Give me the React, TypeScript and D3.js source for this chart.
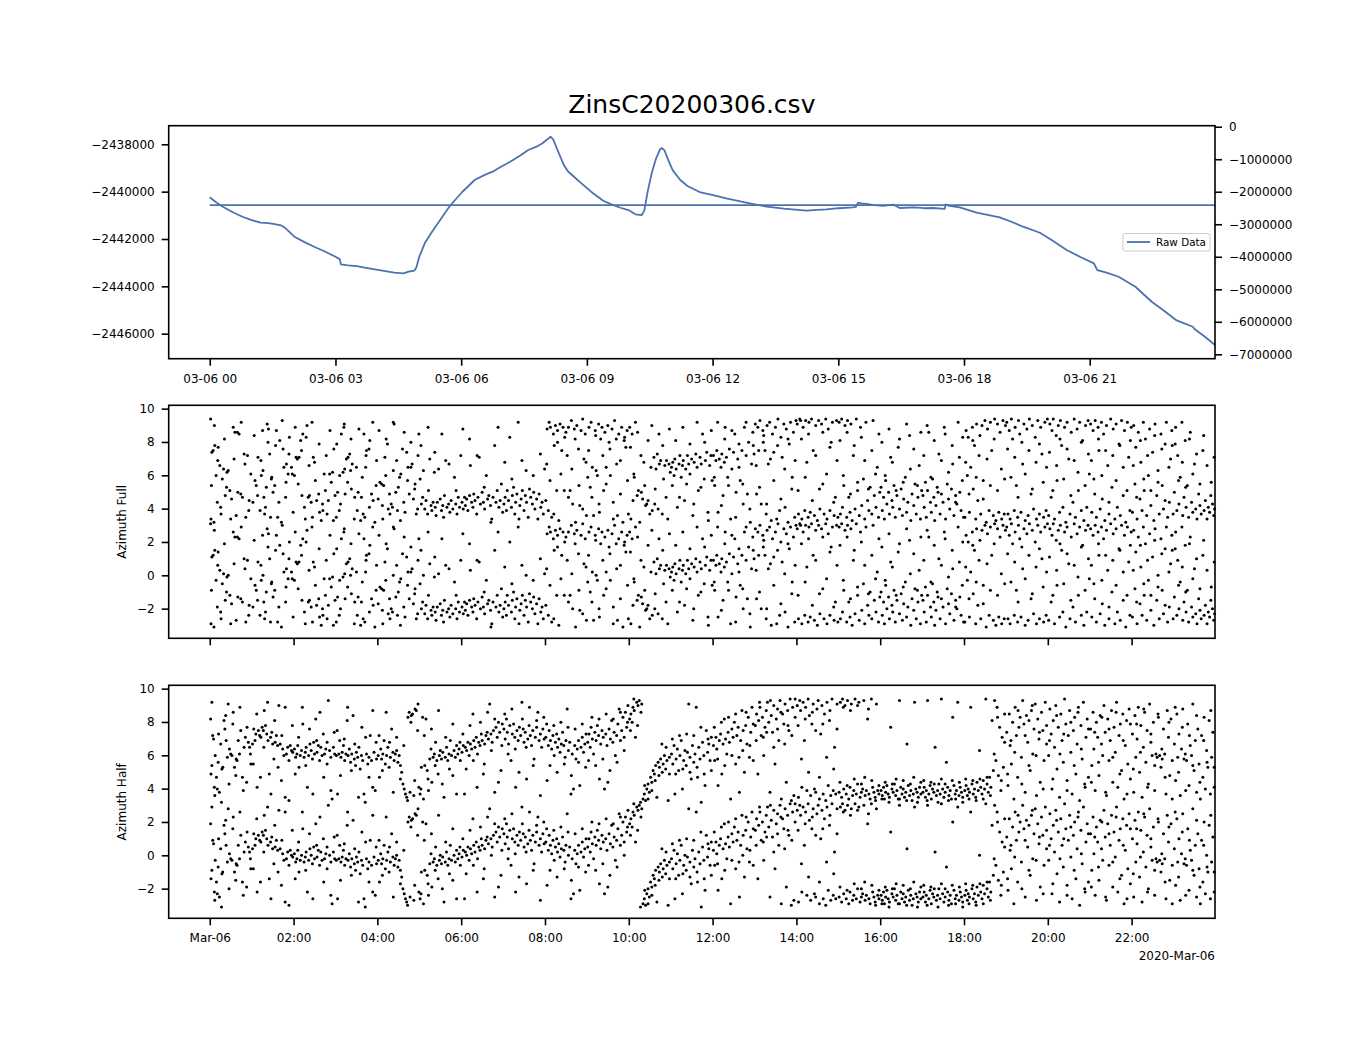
import * as d3 from "d3";
import { useEffect, useRef } from "react";

const WIDTH = 1350;
const HEIGHT = 1050;
const FONT = "DejaVu Sans";
const BLUE = "#4c72b0";

const title = "ZinsC20200306.csv";
const dayStart = new Date(2020, 2, 6, 0, 0, 0);
const at = (h: number) => new Date(dayStart.getTime() + h * 3600e3);

// raw data: [hours since midnight, value]
const rawSeries: [number, number][] = [
  [0, -2440239], [0.15, -2440450], [0.31, -2440636], [0.55, -2440870], [0.78, -2441059], [1.0, -2441200],
  [1.21, -2441312], [1.4, -2441330], [1.55, -2441367], [1.7, -2441420], [1.81, -2441549], [2.02, -2441903],
  [2.25, -2442120], [2.49, -2442326], [2.75, -2442530], [3.0, -2442748], [3.1, -2442850], [3.13, -2443070],
  [3.3, -2443110], [3.51, -2443142], [3.7, -2443210], [3.94, -2443283], [4.19, -2443353], [4.4, -2443420],
  [4.62, -2443450], [4.75, -2443380], [4.88, -2443340], [4.93, -2443200], [5.0, -2442750], [5.13, -2442183],
  [5.3, -2441700], [5.47, -2441270], [5.6, -2440930], [5.73, -2440607], [5.88, -2440300], [6.03, -2440003],
  [6.18, -2439750], [6.32, -2439508], [6.55, -2439300], [6.75, -2439157], [6.95, -2438950], [7.17, -2438735],
  [7.4, -2438480], [7.6, -2438240], [7.8, -2438100], [7.94, -2437958], [8.05, -2437800], [8.13, -2437679],
  [8.2, -2437800], [8.3, -2438250], [8.45, -2438875], [8.55, -2439150], [8.7, -2439380], [8.87, -2439648],
  [9.1, -2440000], [9.39, -2440383], [9.6, -2440550], [9.8, -2440680], [9.99, -2440776], [10.16, -2440958],
  [10.31, -2440987], [10.37, -2440800], [10.45, -2440000], [10.55, -2439200], [10.65, -2438600], [10.75, -2438200],
  [10.79, -2438160], [10.85, -2438250], [10.95, -2438700], [11.05, -2439100], [11.23, -2439508], [11.4, -2439760],
  [11.69, -2440016], [12.01, -2440142], [12.35, -2440290], [12.89, -2440493], [13.29, -2440636], [13.7, -2440720],
  [14.24, -2440805], [14.5, -2440770], [14.72, -2440746], [15.0, -2440700], [15.35, -2440662], [15.42, -2440640],
  [15.47, -2440467], [15.55, -2440500], [15.67, -2440520], [15.85, -2440570], [16.07, -2440600], [16.25, -2440560],
  [16.31, -2440550], [16.47, -2440690], [16.8, -2440660], [17.05, -2440700], [17.26, -2440690], [17.54, -2440730],
  [17.56, -2440535], [17.65, -2440600], [17.9, -2440662], [18.3, -2440890], [18.85, -2441084], [19.1, -2441250],
  [19.41, -2441481], [19.81, -2441735], [20.1, -2442050], [20.45, -2442466], [20.8, -2442780], [21.1, -2443028],
  [21.18, -2443311], [21.4, -2443420], [21.69, -2443594], [22.09, -2444016], [22.48, -2444650], [22.75, -2445000],
  [23.06, -2445423], [23.46, -2445706], [23.5, -2445800], [23.75, -2446128], [23.99, -2446480],
];
// flat line on the twin (right) axis
const levelRight = -2410000;
const levelSpan = [0, 23.99];

// azimuth angles (hours, radians in -pi..pi); the chart shows every angle twice, as read and one turn higher
const fullAzimuth = [
  0.02, 3.1, 0.03, -2.9, 0.05, 1.1, 0.08, 1.2, 0.1, -3.1, 0.12, 1.5, 0.15, -0.3, 0.18, -1.9, 0.2, 1.4, 0.24, 0.3,
  0.27, -2.6, 0.3, -0.5, 0.33, 0.1, 0.37, -1.5, 0.4, -1.0, 0.44, 0.0, 0.48, -1.2, 0.52, -1.7, 0.56, 2.6, 0.6, 2.3,
  0.63, -2.7, 0.66, 2.3, 0.7, 2.2, 0.74, -1.4, 0.78, -1.6, 0.82, 1.0, 0.86, -2.8, 0.9, 0.9, 0.94, -1.8, 0.98, -0.2,
  1.03, -1.9, 1.08, -0.6, 1.11, -0.9, 1.15, 0.8, 1.2, -2.4, 1.23, -0.3, 1.26, 2.4, 1.27, 0.0, 1.29, -1.6, 1.33, -2.2,
  1.35, -1.0, 1.37, 2.8, 1.39, 1.7, 1.43, 1.0, 1.45, -2.8, 1.47, -0.5, 1.51, -1.3, 1.55, -0.9, 1.59, 2.4, 1.62, -2.8,
  1.67, 1.8, 1.71, -3.1, 1.75, 1.3, 1.77, 0.2, 1.81, -1.6, 1.83, 0.4, 1.87, -0.2, 1.89, 1.0, 1.95, 0.2, 1.97, -0.2,
  2.02, -0.3, 2.06, 0.8, 2.09, 0.7, 2.13, 0.8, 2.17, 1.8, 2.2, -1.5, 2.22, 2.2, 2.26, -2.2, 2.3, 2.0, 2.32, 2.7,
  2.35, -1.6, 2.38, -1.5, 2.42, -1.9, 2.45, -2.8, 2.47, 0.8, 2.5, 0.5, 2.55, -1.8, 2.6, -1.4, 2.62, -2.5, 2.66, -3.0,
  2.7, -2.4, 2.73, -0.2, 2.76, -1.2, 2.8, -2.6, 2.83, -1.8, 2.86, -0.2, 2.9, -0.7, 2.93, -0.1, 2.96, 1.3, 2.99, -1.5,
  3.02, -2.8, 3.05, -1.3, 3.09, -2.4, 3.1, -0.3, 3.14, 2.2, 3.18, -0.1, 3.2, 2.6, 3.22, 0.1, 3.23, -1.4, 3.26, 0.7,
  3.3, 0.8, 3.34, 1.0, 3.36, 0.0, 3.38, -1.1, 3.4, 0.4, 3.46, -1.6, 3.5, 0.2, 3.52, -2.4, 3.54, -1.3, 3.6, -3.0,
  3.62, -1.6, 3.66, -2.6, 3.68, 2.2, 3.7, -2.8, 3.72, 0.2, 3.74, 1.2, 3.8, 1.3, 3.82, 1.8, 3.86, -1.4, 3.9, -1.8,
  3.94, -3.1, 3.98, 0.6,
  4.02, -1.7, 4.06, -0.7, 4.1, -0.8, 4.12, -2.1, 4.15, -0.9, 4.18, 0.8, 4.2, -0.3, 4.24, 1.6, 4.26, -2.3, 4.3, -2.6,
  4.33, -2.0, 4.36, -2.2, 4.38, 0.0, 4.4, 2.8, 4.44, -1.3, 4.48, -2.4, 4.5, -1.0, 4.53, -0.4, 4.56, -0.2, 4.6, 1.3,
  4.63, -1.9, 4.66, -2.5, 4.7, 1.1, 4.73, 0.2, 4.76, -1.4, 4.8, 0.2, 4.83, 0.4, 4.86, -1.7, 4.9, -0.8, 4.93, -2.6,
  4.96, -2.3, 4.99, 2.2,
  5.02, -0.5, 5.05, -2.0, 5.08, -1.6, 5.1, 0.0, 5.13, -2.3, 5.16, -1.8, 5.2, -2.6, 5.22, -1.2, 5.25, 0.7, 5.28, -2.1,
  5.3, -2.4, 5.33, -1.9, 5.36, -0.1, 5.38, -2.2, 5.4, -2.7, 5.43, -1.9, 5.46, 0.1, 5.5, -1.7, 5.53, -2.4, 5.56, -2.1,
  5.58, -2.8, 5.6, -1.5, 5.63, 0.6, 5.66, -2.2, 5.7, -2.0, 5.73, -2.5, 5.76, -1.8, 5.8, -2.3, 5.84, -0.4, 5.87, -2.0,
  5.9, -2.6, 5.93, -1.6, 5.96, -2.2, 5.99, 0.9,
  6.02, -1.9, 6.05, -2.3, 6.08, -1.6, 6.1, -2.1, 6.13, -1.7, 6.16, -2.4, 6.2, -1.5, 6.22, 0.3, 6.25, -1.9, 6.28, -2.2,
  6.3, -1.4, 6.33, -1.8, 6.37, -2.6, 6.4, -1.6, 6.43, 0.8, 6.46, -2.0, 6.5, -1.3, 6.53, -1.9, 6.56, -2.3, 6.6, -0.3,
  6.63, -1.7, 6.66, -1.5, 6.7, -2.1, 6.73, -2.9, 6.76, -1.6, 6.8, 1.5, 6.83, -1.9, 6.86, -1.2, 6.9, -2.2, 6.93, -1.8,
  6.96, -0.8, 6.99, -2.5,
  7.02, -2.0, 7.05, -1.6, 7.08, -2.4, 7.1, -1.2, 7.13, -1.8, 7.16, 2.0, 7.2, -2.2, 7.22, -1.5, 7.25, -1.0, 7.28, -2.6,
  7.3, -1.9, 7.33, -1.4, 7.36, 2.9, 7.4, -2.1, 7.43, -1.7, 7.45, 0.6, 7.46, -1.2, 7.5, -2.4, 7.53, -1.5, 7.56, -1.9,
  7.6, -2.8, 7.63, -1.1, 7.66, -1.6, 7.7, -2.0, 7.73, -1.3, 7.76, -2.3, 7.8, -1.7, 7.83, -2.9, 7.86, -1.4, 7.9, -2.2,
  7.93, -1.9, 7.96, -2.6, 7.99, 0.1,
  8.02, -1.8, 8.05, 2.5, 8.08, -2.4, 8.1, 2.9, 8.13, 2.6, 8.16, -2.8, 8.2, 2.2, 8.22, 1.5, 8.25, 2.7, 8.28, -1.2,
  8.3, 2.4, 8.33, -3.0, 8.36, 2.8, 8.4, 1.2, 8.43, 2.6, 8.46, -1.2, 8.5, 2.3, 8.53, 0.9, 8.56, 2.6, 8.6, -1.2,
  8.63, 3.0, 8.66, -2.0, 8.7, 2.5, 8.73, -3.1, 8.76, 2.7, 8.8, 1.3, 8.83, -2.1, 8.86, 2.4, 8.9, 3.1, 8.93, 0.7,
  8.96, 2.2, 8.99, -2.7,
  9.02, -0.4, 9.05, 2.6, 9.08, -1.0, 9.1, 2.9, 9.13, 0.2, 9.16, -2.7, 9.2, 2.4, 9.22, 0.0, 9.25, -0.3, 9.28, 2.8,
  9.3, -2.5, 9.33, 1.9, 9.36, 2.6, 9.4, -1.2, 9.43, 2.3, 9.46, 0.2, 9.5, 2.7, 9.53, 1.7, 9.56, -0.3, 9.6, 2.5,
  9.63, -2.9, 9.66, 3.0, 9.7, 1.9, 9.73, -2.7, 9.76, 2.2, 9.8, 0.6, 9.83, 2.6, 9.86, -3.1, 9.9, 2.0, 9.93, 1.4,
  9.96, 2.4, 9.99, -2.6,
  10.02, 2.6, 10.05, -2.9, 10.08, 2.2, 10.1, -1.8, 10.13, -0.4, 10.16, 2.9, 10.2, -1.5, 10.23, -1.2, 10.26, -3.1,
  10.3, -1.3, 10.33, -1.7, 10.36, 0.5, 10.4, -2.1, 10.43, -2.0, 10.46, -1.8, 10.5, -2.6, 10.53, 0.2, 10.56, -2.4,
  10.6, 0.8, 10.62, -2.0, 10.65, 0.1, 10.68, 1.0, 10.7, -2.3, 10.73, 0.4, 10.76, 0.6, 10.8, -2.6, 10.83, -0.5,
  10.86, 0.3, 10.9, 0.6, 10.93, -2.9, 10.96, 0.4, 10.99, -0.1,
  11.02, 0.2, 11.05, 0.5, 11.08, -0.3, 11.1, 0.7, 11.13, 0.1, 11.16, -2.2, 11.2, 0.4, 11.22, 0.9, 11.25, -0.4,
  11.28, 0.3, 11.3, 0.6, 11.33, -1.8, 11.36, 0.1, 11.4, 0.9, 11.43, 0.4, 11.46, -0.2, 11.5, 0.7, 11.53, -2.7,
  11.56, 0.5, 11.6, 1.0, 11.63, 0.2, 11.66, -1.2, 11.7, 0.8, 11.73, 0.4, 11.76, 2.2, 11.8, -0.5, 11.83, 0.6,
  11.86, 1.1, 11.9, -3.0, 11.93, 0.3, 11.96, 0.9, 11.99, -0.6,
  12.02, 0.9, 12.05, -0.9, 12.08, 0.6, 12.1, 1.2, 12.13, -2.5, 12.16, 0.7, 12.2, 0.2, 12.22, 1.0, 12.25, -1.5,
  12.28, 0.5, 12.3, 2.6, 12.33, 0.8, 12.36, -0.4, 12.4, 1.3, 12.43, -2.9, 12.46, 0.1, 12.5, 1.1, 12.53, 2.2,
  12.56, -1.3, 12.6, 0.7, 12.63, 1.6, 12.66, -0.6, 12.7, 1.2, 12.73, -2.0, 12.76, 2.6, 12.8, 0.9, 12.83, -1.4,
  12.86, 1.7, 12.9, -3.1, 12.93, 0.4, 12.96, 2.3, 12.99, 1.0,
  13.02, 2.8, 13.05, -1.4, 13.08, 2.6, 13.1, 1.2, 13.13, 3.0, 13.16, -2.0, 13.2, 2.4, 13.22, 2.1, 13.25, 1.2,
  13.28, -2.6, 13.3, 2.7, 13.33, 0.4, 13.36, 2.9, 13.4, -3.0, 13.43, 2.2, 13.46, 1.1, 13.5, 2.6, 13.53, -2.9,
  13.56, 3.1, 13.6, -2.4, 13.63, 2.0, 13.66, 0.8, 13.7, 2.8, 13.73, -2.2, 13.76, 2.5, 13.8, -3.1, 13.83, 1.6,
  13.86, 2.9, 13.9, -0.4, 13.93, 2.3, 13.96, -2.8, 13.99, 3.0,
  14.02, 2.8, 14.05, -2.6, 14.08, 3.1, 14.1, 3.0, 14.13, -2.9, 14.16, 2.6, 14.2, -2.4, 14.22, 3.0, 14.25, 0.5,
  14.28, -2.8, 14.3, 2.9, 14.33, -2.5, 14.36, 3.1, 14.4, 1.2, 14.43, -2.7, 14.46, 2.7, 14.5, -3.0, 14.53, 3.0,
  14.56, -2.3, 14.6, 2.8, 14.63, -0.8, 14.66, -2.6, 14.7, 3.1, 14.73, -2.9, 14.76, 2.5, 14.8, -2.4, 14.83, 1.7,
  14.86, 2.9, 14.9, -2.7, 14.93, -1.6, 14.96, 3.0, 14.99, -2.8,
  15.02, 2.9, 15.05, -2.6, 15.08, 3.1, 15.1, -2.2, 15.13, -0.9, 15.16, 2.7, 15.2, -2.8, 15.22, 3.0, 15.25, -1.6,
  15.28, -2.5, 15.3, 2.8, 15.33, -3.0, 15.36, 0.9, 15.4, -2.3, 15.43, 3.1, 15.46, -1.2, 15.5, -2.7, 15.53, 2.6,
  15.56, -2.1, 15.6, -0.5, 15.63, -2.9, 15.66, 2.9, 15.7, -1.8, 15.73, -2.4, 15.76, -1.0, 15.8, -2.6, 15.83, 3.0,
  15.86, -1.5, 15.9, -2.2, 15.93, 0.2, 15.96, -2.8, 15.99, -1.3,
  16.02, -1.0, 16.05, -2.4, 16.08, -1.6, 16.1, -2.9, 16.13, -0.6, 16.16, -2.0, 16.2, -1.3, 16.22, -2.6, 16.25, 0.8,
  16.28, -1.8, 16.3, -2.2, 16.33, -0.9, 16.36, -2.8, 16.4, -1.5, 16.43, 1.4, 16.46, -2.3, 16.5, -1.1, 16.53, -2.7,
  16.56, -1.7, 16.6, -0.4, 16.63, -2.5, 16.66, -1.9, 16.7, 2.1, 16.73, -3.0, 16.76, -1.4, 16.8, -2.1, 16.83, -0.8,
  16.86, -2.6, 16.9, -1.6, 16.93, 0.3, 16.96, -2.9, 16.99, -1.2,
  17.02, -1.5, 17.05, -2.2, 17.08, -0.7, 17.1, -2.8, 17.13, -1.2, 17.16, 2.3, 17.2, -1.9, 17.22, -2.5, 17.25, -0.5,
  17.28, -1.6, 17.3, -3.0, 17.33, -2.1, 17.36, -1.0, 17.4, 1.0, 17.43, -2.6, 17.46, -1.4, 17.5, -1.9, 17.53, 2.6,
  17.56, -2.9, 17.6, -0.8, 17.63, -1.7, 17.66, -2.3, 17.7, -1.1, 17.73, 0.4, 17.76, -2.7, 17.8, -1.5, 17.83, -2.0,
  17.86, 2.9, 17.9, -1.3, 17.93, -2.4, 17.96, -0.6, 17.99, -2.8,
  18.02, -2.8, 18.05, 2.4, 18.08, -0.3, 18.1, 2.0, 18.13, -2.5, 18.16, 0.2, 18.2, 2.6, 18.22, -1.1, 18.25, 1.5,
  18.28, -2.9, 18.3, 2.8, 18.33, -1.8, 18.36, 0.9, 18.4, -2.6, 18.43, 2.7, 18.46, -0.6, 18.5, 3.0, 18.53, -3.1,
  18.56, 2.5, 18.6, -2.4, 18.63, 2.9, 18.66, 1.2, 18.7, -2.7, 18.73, 3.1, 18.76, -3.0, 18.8, 2.8, 18.83, -2.5,
  18.86, 2.3, 18.9, -2.9, 18.93, 3.0, 18.96, -2.6, 18.99, 2.7,
  19.02, 2.9, 19.05, -2.6, 19.08, 2.4, 19.1, -2.9, 19.13, 3.1, 19.16, 1.9, 19.2, -2.4, 19.22, 2.6, 19.25, -0.9,
  19.28, -2.8, 19.3, 3.0, 19.33, 2.2, 19.36, -2.5, 19.4, 0.4, 19.43, 2.8, 19.46, -3.0, 19.5, 2.5, 19.53, -2.7,
  19.56, 3.1, 19.6, -1.4, 19.63, 2.7, 19.66, -2.3, 19.7, 2.0, 19.73, -2.9, 19.76, 3.0, 19.8, -2.6, 19.83, 2.6,
  19.86, 1.0, 19.9, -2.8, 19.93, 2.9, 19.96, -2.4, 19.99, 3.1,
  20.02, -2.7, 20.05, 2.8, 20.08, -1.6, 20.1, 2.4, 20.13, 3.1, 20.16, -2.9, 20.2, 2.1, 20.22, -0.6, 20.25, 2.7,
  20.28, -2.5, 20.3, 3.0, 20.33, 1.5, 20.36, -2.2, 20.4, 2.6, 20.43, -3.1, 20.46, 2.9, 20.5, 0.7, 20.53, -2.6,
  20.56, 2.3, 20.6, -1.9, 20.63, 3.1, 20.66, -2.8, 20.7, 2.5, 20.73, -1.2, 20.76, 2.9, 20.8, -2.4, 20.83, 1.8,
  20.86, -3.0, 20.9, 2.7, 20.93, -2.2, 20.96, 3.0, 20.99, -0.2,
  21.02, 2.8, 21.05, -2.5, 21.08, 2.4, 21.1, -0.5, 21.13, 3.0, 21.16, -2.8, 21.2, 2.6, 21.22, 1.2, 21.25, -2.3,
  21.28, 2.9, 21.3, -1.7, 21.33, 2.2, 21.36, -3.0, 21.4, 2.7, 21.43, 0.3, 21.46, -2.6, 21.5, 3.1, 21.53, -1.0,
  21.56, 2.5, 21.6, -2.9, 21.63, 2.8, 21.66, -2.2, 21.7, 1.6, 21.73, -2.7, 21.76, 3.0, 21.8, -1.5, 21.83, 2.4,
  21.86, -3.1, 21.9, 2.9, 21.93, 0.8, 21.96, -2.4, 21.99, 2.6,
  22.02, -2.5, 22.05, 2.7, 22.08, -0.8, 22.1, 1.4, 22.13, -2.9, 22.16, 2.3, 22.2, -1.7, 22.22, 0.5, 22.25, -2.4,
  22.28, 2.9, 22.3, -1.2, 22.33, 1.9, 22.36, -2.7, 22.4, -0.3, 22.43, 2.5, 22.46, -2.1, 22.5, 1.1, 22.53, -3.0,
  22.56, 2.8, 22.6, -1.5, 22.63, 0.0, 22.66, -2.6, 22.7, 2.2, 22.73, -0.9, 22.76, -2.3, 22.8, 1.6, 22.83, 2.9,
  22.86, -2.8, 22.9, -1.9, 22.93, 0.7, 22.96, 2.4, 22.99, -2.6,
  23.02, -1.3, 23.05, 2.6, 23.08, -2.4, 23.1, 0.9, 23.13, -2.0, 23.16, -0.4, 23.2, 2.9, 23.22, -2.7, 23.25, -1.6,
  23.28, 1.8, 23.3, -2.2, 23.33, -0.9, 23.36, -2.8, 23.4, 2.3, 23.43, -1.9, 23.46, -2.5, 23.5, 0.4, 23.53, -2.3,
  23.56, -2.9, 23.6, -1.4, 23.63, -2.1, 23.66, -2.6, 23.7, 1.2, 23.73, -2.4, 23.76, -1.8, 23.8, -2.9, 23.83, -2.2,
  23.86, -2.5, 23.9, -0.7, 23.93, -2.0, 23.96, -2.7, 23.98, -2.3,
  // loose points between the bands
  0.04, -0.9, 0.11, 2.7, 0.19, 0.6, 0.26, -2.2, 0.35, 1.9, 0.41, -0.1, 0.5, -2.9, 0.58, 0.7, 0.67, -1.3, 0.75, 2.9,
  0.84, 0.4, 0.93, -2.4, 1.06, 2.1, 1.14, -1.5, 1.22, 0.6, 1.31, -2.6, 1.4, 2.5, 1.48, -0.4, 1.57, 1.5, 1.65, -1.9,
  1.73, 3.0, 1.82, -0.7, 1.9, 2.0, 1.99, -2.5, 2.04, 2.6, 2.11, -0.8, 2.19, 1.2, 2.28, -2.9, 2.37, 0.3, 2.44, 2.9,
  2.52, -0.6, 2.61, 1.6, 2.69, -2.0, 2.78, 0.9, 2.87, 2.4, 2.95, -3.0, 3.03, 1.6, 3.12, -2.0, 3.21, 2.8, 3.29, -0.7,
  3.37, 1.9, 3.45, -2.9, 3.56, 2.5, 3.64, -0.4, 3.73, 0.9, 3.81, -2.2, 3.89, 2.9, 3.97, -0.9, 4.04, 2.4, 4.13, -2.9,
  4.21, 1.9, 4.29, -1.4, 4.38, 2.9, 4.46, 0.6, 4.55, -3.0, 4.64, 2.3, 4.72, -0.6, 4.8, 1.7, 4.89, -1.1, 4.97, 0.9,
  5.04, 1.5, 5.21, 2.6, 5.37, 1.1, 5.54, 2.2, 5.71, 0.4, 5.88, -1.2, 6.04, 2.5, 6.2, 1.9, 6.38, 0.9, 6.55, -1.0,
  6.71, -3.1, 6.88, 2.6, 7.04, 0.5, 7.21, -0.5, 7.38, -2.9, 7.55, 0.0, 7.72, -0.3, 7.89, 1.0, 8.04, 0.4, 8.12, -0.6,
  8.21, -2.6, 8.3, 1.7, 8.38, -0.2, 8.47, 2.0, 8.56, -1.6, 8.64, 0.1, 8.72, 1.9, 8.81, -0.9, 8.9, -2.3, 8.98, 0.5,
  9.04, 1.2, 9.12, -1.6, 9.21, 2.1, 9.29, -2.0, 9.38, 0.9, 9.46, -0.8, 9.55, 1.3, 9.63, -1.9, 9.71, 0.4, 9.8, -1.4,
  9.89, 1.8, 9.97, -0.6, 10.04, 1.4, 10.12, -0.2, 10.21, 2.3, 10.29, 0.9, 10.38, -0.9, 10.46, 1.8, 10.55, 2.7,
  10.63, -1.1, 10.72, 2.2, 10.81, 1.5, 10.89, -1.6, 10.97, 2.5, 11.04, -0.9, 11.12, 1.8, 11.21, -1.6, 11.29, 2.6,
  11.38, -0.8, 11.46, 1.6, 11.55, -2.0, 11.63, 2.9, 11.72, -1.0, 11.81, 1.7, 11.89, -2.5, 11.97, 2.4, 12.04, -0.4,
  12.12, 2.9, 12.21, -2.1, 12.29, 1.9, 12.38, -0.9, 12.46, 2.4, 12.55, -2.8, 12.63, 0.2, 12.72, -0.8, 12.8, 2.9,
  12.89, -2.3, 12.97, 1.5, 13.04, 0.3, 13.12, -1.0, 13.21, 1.7, 13.29, -2.0, 13.38, 0.7, 13.46, -0.6, 13.55, 1.5,
  13.63, -1.7, 13.72, 0.1, 13.8, 1.9, 13.89, -1.1, 13.97, 0.6, 14.04, -1.2, 14.12, 1.9, 14.21, -0.4, 14.29, 2.2,
  14.38, -1.8, 14.46, 0.9, 14.55, -1.1, 14.63, 2.3, 14.72, -0.2, 14.8, 1.4, 14.89, -1.9, 14.97, 0.6, 15.04, 1.8,
  15.12, -0.3, 15.21, 2.3, 15.29, -1.4, 15.38, 1.5, 15.46, -0.7, 15.55, 2.0, 15.63, 0.6, 15.72, -1.1, 15.8, 1.2,
  15.89, -0.2, 15.97, 2.2, 16.04, 1.7, 16.12, -0.3, 16.21, 2.5, 16.29, 0.5, 16.38, -1.2, 16.46, 1.9, 16.55, -0.7,
  16.63, 2.8, 16.72, 0.1, 16.8, 1.3, 16.89, -0.9, 16.97, 2.3, 17.04, 0.9, 17.12, 2.7, 17.21, -0.4, 17.29, 1.8,
  17.38, -1.3, 17.46, 0.6, 17.55, 2.2, 17.63, -0.1, 17.72, 1.5, 17.8, -1.9, 17.89, 0.8, 17.97, 2.0, 18.04, 0.5,
  18.12, -1.4, 18.21, 1.8, 18.29, -0.4, 18.38, 2.1, 18.46, -1.7, 18.55, 0.7, 18.63, -0.9, 18.72, 1.9, 18.8, -1.2,
  18.89, 0.1, 18.97, -0.5, 19.04, 1.3, 19.12, -0.4, 19.21, 0.8, 19.29, -1.6, 19.38, 1.7, 19.46, -0.2, 19.55, 1.2,
  19.63, -1.1, 19.72, 0.5, 19.8, 1.6, 19.89, -0.7, 19.97, 0.2, 20.04, 1.1, 20.12, -1.2, 20.21, 0.3, 20.29, 1.9,
  20.38, -0.5, 20.46, 1.3, 20.55, -1.5, 20.63, 0.6, 20.72, -0.1, 20.8, 1.7, 20.89, -0.9, 20.97, 1.0, 21.04, 0.6,
  21.12, -1.4, 21.21, 1.9, 21.29, -0.3, 21.38, 1.2, 21.46, -1.9, 21.55, 0.9, 21.63, -0.6, 21.72, 1.5, 21.8, 0.2,
  21.89, -1.2, 21.97, 1.8, 22.04, 0.3, 22.12, -1.6, 22.21, 1.8, 22.29, -0.5, 22.38, 0.9, 22.46, -1.2, 22.55, 2.1,
  22.63, -0.7, 22.72, 1.3, 22.8, -1.8, 22.89, 0.2, 22.97, 1.5, 23.04, 1.6, 23.12, -0.6, 23.21, 0.5, 23.29, -1.0,
  23.38, 1.9, 23.46, -0.2, 23.55, 1.0, 23.63, -0.8, 23.72, 2.1, 23.8, 0.3, 23.89, -1.5, 23.97, 0.8,
];

const halfAzimuth = [
  0.02, 1.9, 0.03, -1.4, 0.05, -0.9, 0.07, 0.9, 0.09, 0.7, 0.11, -2.2, 0.13, -0.3, 0.16, -1.6, 0.18, -2.3, 0.2, -0.7,
  0.23, -2.5, 0.26, 0.4, 0.28, -3.1, 0.31, -1.0, 0.34, 1.8, 0.36, 1.3, 0.39, 0.6, 0.42, -0.4, 0.44, 2.8, 0.47, 0.1,
  0.5, -0.2, 0.53, -0.3, 0.56, 2.3, 0.59, -1.0, 0.62, -1.5, 0.65, -0.6, 0.68, 0.6, 0.71, -0.2, 0.74, 1.2, 0.78, -1.6,
  0.82, 0.2, 0.85, 0.8, 0.88, -1.9, 0.92, 0.5, 0.95, 0.2, 0.98, -0.8,
  1.02, 0.4, 1.05, 1.3, 1.08, 0.6, 1.1, 1.0, 1.13, -2.2, 1.16, 1.2, 1.19, 0.9, 1.22, 0.8, 1.25, 1.4, 1.28, 1.2,
  1.3, 2.4, 1.33, 1.5, 1.36, 1.0, 1.39, 0.6, 1.42, -1.4, 1.45, 0.8, 1.48, 1.1, 1.5, 0.4, 1.53, -0.5, 1.56, 0.5,
  1.59, 0.9, 1.62, 0.3, 1.65, 2.7, 1.68, 0.4, 1.71, -1.8, 1.74, 0.1, 1.77, -0.3, 1.8, -2.8, 1.83, -0.2, 1.86, 0.2,
  1.89, -3.0, 1.92, 0.3, 1.95, 0.0, 1.98, -0.1,
  2.02, 0.1, 2.05, -0.4, 2.08, -0.2, 2.1, 0.3, 2.13, -1.0, 2.16, -0.3, 2.19, 0.0, 2.22, 1.6, 2.25, -0.4, 2.28, -0.1,
  2.3, 0.2, 2.33, -2.2, 2.36, -0.3, 2.39, 0.4, 2.42, 0.0, 2.45, -0.5, 2.48, 0.5, 2.5, -0.2, 2.53, 1.9, 2.56, -0.1,
  2.59, 0.3, 2.62, -0.6, 2.65, 0.2, 2.68, -0.3, 2.71, 1.0, 2.74, -0.2, 2.77, 0.1, 2.8, -0.8, 2.83, 3.0, 2.86, 0.0,
  2.89, -0.4, 2.92, -2.9, 2.95, 0.2, 2.98, -0.2,
  3.02, -0.3, 3.05, -2.6, 3.08, -0.2, 3.1, 0.6, 3.13, -0.4, 3.16, -0.1, 3.19, 0.3, 3.22, -0.6, 3.25, -0.2, 3.28, 1.8,
  3.3, -0.3, 3.33, 0.1, 3.36, -0.7, 3.39, -0.2, 3.42, 2.1, 3.45, -0.5, 3.48, -0.9, 3.5, -0.1, 3.53, -0.4, 3.56, 0.2,
  3.59, -1.1, 3.62, -0.3, 3.65, -0.6, 3.68, -2.6, 3.71, -3.1, 3.74, -0.2, 3.77, -0.8, 3.8, -0.4, 3.83, 0.9,
  3.86, -0.6, 3.89, -2.2, 3.92, -0.1, 3.95, -2.4, 3.98, -0.5,
  4.02, -0.3, 4.05, -1.6, 4.08, 0.1, 4.1, -0.5, 4.13, -0.2, 4.16, 0.6, 4.19, -0.8, 4.22, -0.3, 4.25, 0.2, 4.28, -1.0,
  4.31, -0.4, 4.34, 1.3, 4.37, -0.1, 4.4, -0.6, 4.43, -0.2, 4.46, 0.0, 4.49, -0.7, 4.52, -0.3, 4.55, -0.9,
  4.58, -1.3, 4.61, -2.0, 4.64, -2.3, 4.67, -2.6, 4.7, -2.8, 4.73, 2.0, 4.76, 2.3, 4.78, -2.5, 4.81, 2.1, 4.84, 2.2,
  4.87, -2.7, 4.9, 2.5, 4.93, 2.4, 4.96, 1.2, 4.99, -2.2,
  5.02, -2.6, 5.05, -1.0, 5.08, 2.0, 5.1, -2.9, 5.13, -0.9, 5.16, 1.9, 5.19, -1.2, 5.22, -2.4, 5.25, -0.5, 5.28, 0.1,
  5.3, -1.9, 5.33, -0.4, 5.36, -0.2, 5.39, 0.5, 5.42, -0.6, 5.45, -1.4, 5.48, -0.3, 5.5, 0.0, 5.53, -0.5, 5.56, -0.1,
  5.59, -2.8, 5.62, -0.4, 5.65, 0.2, 5.68, -0.6, 5.71, -0.2, 5.74, 0.6, 5.77, -0.3, 5.8, -1.5, 5.83, 0.0, 5.86, -0.4,
  5.89, 0.3, 5.92, -0.2, 5.95, 0.1, 5.98, -0.6,
  6.02, -0.1, 6.05, 0.3, 6.08, -2.6, 6.1, 0.2, 6.13, 0.0, 6.16, 0.5, 6.19, -0.3, 6.22, 0.4, 6.25, 0.1, 6.28, 2.2,
  6.3, 0.6, 6.33, 0.2, 6.36, 0.8, 6.39, -0.2, 6.42, 0.5, 6.45, 0.3, 6.48, 1.0, 6.5, 0.6, 6.53, -1.4, 6.56, 0.4,
  6.59, 0.9, 6.62, 1.1, 6.65, 0.7, 6.68, 2.8, 6.71, 1.0, 6.74, 0.5, 6.77, 1.2, 6.8, -2.5, 6.83, 1.4, 6.86, 0.8,
  6.89, 1.7, 6.92, 1.1, 6.95, -1.2, 6.98, 1.6,
  7.02, 1.3, 7.05, 0.7, 7.08, 1.9, 7.1, 1.1, 7.13, 0.4, 7.16, 1.5, 7.19, -0.6, 7.22, 1.0, 7.25, 1.6, 7.28, 0.8,
  7.3, -2.2, 7.33, 1.2, 7.36, 0.6, 7.39, 1.4, 7.42, 0.9, 7.45, 2.9, 7.48, 1.3, 7.5, 0.5, 7.53, 1.1, 7.56, -1.7,
  7.59, 0.7, 7.62, 1.5, 7.65, 0.9, 7.68, 0.3, 7.71, 1.2, 7.74, -0.5, 7.77, 0.8, 7.8, 1.4, 7.83, 2.3, 7.86, 0.6,
  7.89, 1.0, 7.92, 0.2, 7.95, 1.3, 7.98, 0.7,
  8.02, 0.8, 8.05, -1.8, 8.08, 0.3, 8.1, 1.2, 8.13, 0.6, 8.16, 0.1, 8.19, 0.9, 8.22, -0.3, 8.25, 0.5, 8.28, 1.0,
  8.3, 0.2, 8.33, 0.7, 8.36, -0.1, 8.39, 0.4, 8.42, 1.1, 8.45, 0.3, 8.48, -0.4, 8.5, 0.6, 8.53, 2.5, 8.56, 0.0,
  8.59, 0.5, 8.62, -2.6, 8.65, -0.2, 8.68, -2.3, 8.71, 0.3, 8.74, -0.5, 8.77, 0.1, 8.8, 0.6, 8.83, -2.1, 8.86, 0.2,
  8.89, 0.8, 8.92, -0.1, 8.95, 0.4, 8.98, 1.0,
  9.02, 0.5, 9.05, 1.0, 9.08, 0.2, 9.1, 1.4, 9.13, 0.7, 9.16, -0.2, 9.19, 1.1, 9.22, 0.6, 9.25, 1.5, 9.28, 0.9,
  9.3, -1.7, 9.33, 0.4, 9.36, 1.2, 9.39, 0.8, 9.42, -2.3, 9.45, 1.0, 9.48, 0.3, 9.5, -1.9, 9.53, 1.3, 9.56, 0.7,
  9.59, 1.8, 9.62, 0.5, 9.65, 1.1, 9.68, -0.3, 9.71, 0.9, 9.74, 1.6, 9.77, 2.5, 9.8, 0.6, 9.83, 1.2, 9.86, 2.0,
  9.89, 0.8, 9.92, 2.3, 9.95, 1.4, 9.98, 2.7,
  10.02, 1.9, 10.05, 2.2, 10.08, 1.7, 10.1, 2.6, 10.13, 2.4, 10.16, 0.8, 10.19, 2.9, 10.22, 2.7, 10.25, 3.0,
  10.28, -3.1, 10.31, 2.8, 10.34, -2.9, 10.37, -2.6, 10.4, -3.0, 10.43, -2.3, 10.46, -2.0, 10.49, -2.5, 10.52, -1.6,
  10.55, -1.9, 10.58, -1.2, 10.61, -1.4, 10.64, -0.9, 10.67, -2.8, 10.7, -0.7, 10.73, -1.0, 10.76, -0.5, 10.79, 0.4,
  10.82, -0.8, 10.85, -0.3, 10.88, -1.1, 10.91, -0.6, 10.94, -3.0, 10.97, -0.4,
  11.02, -0.2, 11.05, -0.8, 11.08, 0.3, 11.1, -2.6, 11.13, -0.5, 11.16, 0.1, 11.19, -1.2, 11.22, -0.3, 11.25, 0.6,
  11.28, -2.3, 11.31, -0.6, 11.34, 0.0, 11.37, -0.9, 11.4, -0.1, 11.43, 2.8, 11.46, -0.4, 11.49, -1.7, 11.52, 0.3,
  11.55, -0.7, 11.58, -0.2, 11.61, 2.6, 11.64, -1.6, 11.67, 0.2, 11.7, -0.5, 11.73, -3.1, 11.76, 0.5, 11.79, -0.3,
  11.82, -2.1, 11.85, 1.2, 11.88, -0.1, 11.91, 0.4, 11.94, -0.6, 11.97, 0.8,
  12.02, 0.3, 12.05, -0.6, 12.08, 0.8, 12.1, 0.1, 12.13, -2.1, 12.16, 0.6, 12.19, 1.0, 12.22, -1.4, 12.25, 0.4,
  12.28, 1.9, 12.31, 0.7, 12.34, -0.2, 12.37, 1.1, 12.4, 0.5, 12.43, -2.9, 12.46, 1.3, 12.49, 0.8, 12.52, 1.7,
  12.55, -0.8, 12.58, 0.9, 12.61, 1.4, 12.64, -2.5, 12.67, 0.6, 12.7, 2.4, 12.73, 1.2, 12.76, -1.3, 12.79, 1.5,
  12.82, 0.4, 12.85, 2.0, 12.88, -0.4, 12.91, 1.1, 12.94, 2.6, 12.97, 1.6,
  13.02, 1.5, 13.05, 2.2, 13.08, -1.4, 13.1, 1.8, 13.13, 2.6, 13.16, 0.9, 13.19, 2.0, 13.22, -0.3, 13.25, 1.4,
  13.28, 2.4, 13.31, 2.9, 13.34, 1.7, 13.37, -2.5, 13.4, 2.1, 13.43, 1.1, 13.46, 2.7, 13.49, -0.8, 13.52, 1.9,
  13.55, 2.5, 13.58, 0.6, 13.61, 3.0, 13.64, -2.9, 13.67, 2.2, 13.7, 1.6, 13.73, 2.8, 13.76, -1.9, 13.79, 2.4,
  13.82, 1.2, 13.85, 3.1, 13.88, -3.0, 13.91, 2.6, 13.94, -2.7, 13.97, 2.0,
  14.02, 2.7, 14.05, -2.8, 14.08, 3.0, 14.1, 2.4, 14.13, -2.2, 14.16, 2.9, 14.19, 0.6, 14.22, 2.6, 14.25, -2.4,
  14.28, 3.1, 14.31, 2.1, 14.34, -2.7, 14.37, 1.6, 14.4, 2.8, 14.43, -2.3, 14.46, -2.5, 14.49, 2.5, 14.52, 3.0,
  14.55, -2.9, 14.58, 1.0, 14.61, 2.7, 14.64, -2.6, 14.67, 2.2, 14.7, -3.0, 14.73, 2.9, 14.76, -2.1, 14.79, 1.8,
  14.82, -2.7, 14.85, 3.1, 14.88, -2.4, 14.91, 0.2, 14.94, -2.6, 14.97, 2.8,
  15.02, -2.5, 15.05, 2.9, 15.08, -2.8, 15.1, 3.1, 15.13, -2.3, 15.16, 2.7, 15.19, -2.6, 15.22, 3.0, 15.25, -2.9,
  15.28, -2.2, 15.31, 2.8, 15.34, -2.7, 15.37, -2.4, 15.4, 3.1, 15.43, -2.6, 15.46, -2.0, 15.49, 2.9, 15.52, -2.8,
  15.55, -2.5, 15.58, -2.3, 15.61, 3.0, 15.64, -2.7, 15.67, -2.4, 15.7, 1.9, 15.73, -2.6, 15.76, -2.9, 15.79, 3.1,
  15.82, -2.2, 15.85, -2.5, 15.88, -2.8, 15.91, 2.8, 15.94, -2.4, 15.97, -2.6,
  16.02, -2.4, 16.05, -2.7, 16.08, -2.2, 16.1, -2.9, 16.13, -2.5, 16.16, -2.1, 16.19, -2.6, 16.22, -2.8, 16.25, 1.4,
  16.28, -2.3, 16.31, -2.5, 16.34, -2.0, 16.37, -2.7, 16.4, -2.4, 16.43, -2.9, 16.46, 3.0, 16.49, -2.2, 16.52, -2.6,
  16.55, -2.3, 16.58, -2.8, 16.61, -2.5, 16.64, 0.4, 16.67, -2.1, 16.7, -2.7, 16.73, -2.4, 16.76, -3.0, 16.79, -2.6,
  16.82, 2.9, 16.85, -2.3, 16.88, -2.5, 16.91, -2.8, 16.94, -2.2, 16.97, -2.6,
  17.02, -2.5, 17.05, -2.2, 17.08, -2.8, 17.1, -2.4, 17.13, 3.0, 17.16, -2.6, 17.19, -2.1, 17.22, -2.9, 17.25, -2.3,
  17.28, -2.5, 17.31, 0.2, 17.34, -2.7, 17.37, -2.4, 17.4, -2.0, 17.43, -2.6, 17.46, 3.1, 17.49, -2.3, 17.52, -2.8,
  17.55, -2.5, 17.58, -0.7, 17.61, -2.2, 17.64, -2.7, 17.67, -2.4, 17.7, -2.9, 17.73, 2.0, 17.76, -2.1, 17.79, -2.6,
  17.82, -2.4, 17.85, 2.9, 17.88, -2.7, 17.91, -2.2, 17.94, -2.5, 17.97, -2.8,
  18.02, -2.4, 18.05, -2.1, 18.08, -2.7, 18.1, -2.3, 18.13, -2.5, 18.16, 2.6, 18.19, -2.0, 18.22, -2.6, 18.25, -2.3,
  18.28, -2.8, 18.31, -1.9, 18.34, -2.4, 18.37, 0.0, 18.4, -2.2, 18.43, -2.6, 18.46, -1.8, 18.49, -2.3, 18.52, 3.1,
  18.55, -2.0, 18.58, -2.5, 18.61, -1.6, 18.64, -2.2, 18.67, 1.8, 18.7, -1.2, 18.73, 3.0, 18.76, -0.6, 18.79, 2.6,
  18.82, -1.5, 18.85, 1.4, 18.88, -2.4, 18.91, 0.8, 18.94, -1.0, 18.97, 2.2,
  19.02, 1.1, 19.05, -2.1, 19.08, 2.2, 19.1, 0.3, 19.13, -0.8, 19.16, 1.7, 19.19, -2.9, 19.22, 2.6, 19.25, 0.9,
  19.28, -1.6, 19.31, 1.4, 19.34, 2.0, 19.37, -0.4, 19.4, 3.0, 19.43, 1.6, 19.46, -2.5, 19.49, 2.1, 19.52, 0.5,
  19.55, 1.8, 19.58, -1.2, 19.61, 2.4, 19.64, -0.2, 19.67, 1.3, 19.7, 2.8, 19.73, -2.7, 19.76, 1.9, 19.79, 0.7,
  19.82, -1.9, 19.85, 2.3, 19.88, 1.2, 19.91, -0.6, 19.94, 2.9, 19.97, 1.5,
  20.02, -0.3, 20.05, 2.5, 20.08, 1.0, 20.1, -2.3, 20.13, 1.8, 20.16, 0.2, 20.19, 2.7, 20.22, -1.1, 20.25, 1.4,
  20.28, -2.8, 20.31, 2.2, 20.34, 0.6, 20.37, -0.7, 20.4, 3.1, 20.43, 1.6, 20.46, -1.8, 20.49, 0.9, 20.52, 2.4,
  20.55, -0.1, 20.58, -2.6, 20.61, 1.2, 20.64, 2.0, 20.67, -1.4, 20.7, 0.4, 20.73, 2.6, 20.76, -3.0, 20.79, 1.5,
  20.82, -0.5, 20.85, 2.9, 20.88, -2.0, 20.91, 0.8, 20.94, 1.9, 20.97, -1.6,
  21.02, 1.3, 21.05, -0.9, 21.08, 2.3, 21.1, 0.1, 21.13, -2.4, 21.16, 1.7, 21.19, 0.8, 21.22, -1.5, 21.25, 2.1,
  21.28, 0.4, 21.31, -0.3, 21.34, 2.7, 21.37, 1.1, 21.4, -2.7, 21.43, 1.9, 21.46, -0.6, 21.49, 0.6, 21.52, 2.4,
  21.55, -1.9, 21.58, 1.4, 21.61, -0.1, 21.64, 2.9, 21.67, -2.2, 21.7, 0.9, 21.73, 1.6, 21.76, -1.2, 21.79, 2.2,
  21.82, -2.9, 21.85, 0.3, 21.88, 1.8, 21.91, -0.8, 21.94, 2.5, 21.97, -1.7,
  22.02, 1.0, 22.05, -2.5, 22.08, 2.1, 22.1, -0.4, 22.13, 0.7, 22.16, 2.6, 22.19, -1.3, 22.22, 1.5, 22.25, -2.8,
  22.28, 0.2, 22.31, 2.3, 22.34, -0.7, 22.37, 1.2, 22.4, -2.0, 22.43, 2.8, 22.46, 0.5, 22.49, -0.3, 22.52, 1.7,
  22.55, -2.4, 22.58, -0.2, 22.61, -0.4, 22.64, 2.0, 22.67, -0.3, 22.7, -1.0, 22.73, -0.5, 22.76, 1.3, 22.79, -0.2,
  22.82, -2.6, 22.85, 2.4, 22.88, 0.8, 22.91, -1.5, 22.94, 1.9, 22.97, -0.6,
  23.02, 0.4, 23.05, -1.8, 23.08, 2.2, 23.1, -0.4, 23.13, 1.0, 23.16, -2.7, 23.19, 0.1, 23.22, 2.5, 23.25, -0.5,
  23.28, -0.2, 23.31, -0.6, 23.34, 1.6, 23.37, -2.1, 23.4, 0.3, 23.43, -0.3, 23.46, 2.8, 23.49, -1.2, 23.52, 0.6,
  23.55, -2.5, 23.58, 1.3, 23.61, -0.8, 23.64, -2.9, 23.67, 0.9, 23.7, -1.6, 23.73, 2.0, 23.76, -2.3, 23.79, 0.0,
  23.82, -1.0, 23.85, 1.8, 23.88, -2.6, 23.91, -0.4, 23.94, 1.1, 23.97, -2.2,
  // loose points around the bands
  0.05, 2.9, 0.12, -2.7, 0.21, 1.0, 0.29, -1.1, 0.38, 2.1, 0.46, -2.0, 0.55, 1.6, 0.63, -0.5, 0.72, 2.6, 0.8, -2.4,
  0.89, 1.4, 0.97, -0.2, 1.04, -0.8, 1.12, 2.2, 1.21, -1.6, 1.29, 0.2, 1.38, 2.9, 1.46, -2.6, 1.55, 1.8, 1.63, -1.0,
  1.72, 0.9, 1.8, 2.6, 1.89, -0.6, 1.97, 1.5, 2.04, -1.4, 2.12, 0.8, 2.21, 2.6, 2.29, -0.9, 2.38, 1.3, 2.46, -2.6,
  2.55, 0.6, 2.63, 2.3, 2.72, -1.6, 2.8, 0.5, 2.89, -2.4, 2.97, 1.1, 3.04, 1.2, 3.12, -1.5, 3.21, 0.7, 3.29, 2.6,
  3.38, -1.2, 3.46, 0.4, 3.55, -2.8, 3.63, 1.4, 3.72, 0.8, 3.8, -1.6, 3.89, 2.4, 3.97, 0.5, 4.04, 0.9, 4.12, -1.2,
  4.21, 2.3, 4.29, 0.5, 4.38, -2.5, 4.46, 0.8, 4.55, -1.7, 4.63, 0.3, 4.72, -3.0, 4.8, 1.7, 4.89, -1.8, 4.97, 2.8,
  5.04, -2.3, 5.12, 0.9, 5.21, -1.7, 5.29, 1.3, 5.38, -0.9, 5.46, 2.4, 5.55, -2.0, 5.63, 0.8, 5.72, -1.1, 5.8, 1.6,
  5.89, -2.6, 5.97, 0.5, 6.04, 1.0, 6.12, -1.1, 6.21, 1.5, 6.29, -0.6, 6.38, -2.2, 6.46, 1.7, 6.55, -0.8, 6.63, 2.3,
  6.72, 0.0, 6.8, 1.9, 6.89, -1.9, 6.97, 0.3, 7.04, 2.2, 7.12, -0.2, 7.21, 2.5, 7.29, 0.1, 7.38, -1.3, 7.46, 1.9,
  7.55, 0.2, 7.63, 2.6, 7.72, -0.9, 7.8, 1.8, 7.89, -2.7, 7.97, 2.0, 8.04, 1.6, 8.12, -0.9, 8.21, 1.5, 8.29, -1.3,
  8.38, 1.7, 8.46, -0.8, 8.55, 1.4, 8.63, -1.5, 8.72, 1.3, 8.8, -0.7, 8.89, 1.6, 8.97, -1.0, 9.04, -0.6, 9.12, 2.0,
  9.21, -0.9, 9.29, 1.9, 9.38, -0.5, 9.46, 2.2, 9.55, -1.2, 9.63, 1.9, 9.72, -0.7, 9.8, 2.3, 9.89, 0.0, 9.97, 1.7,
  10.04, 1.2, 10.12, 3.1, 10.21, 1.5, 10.29, 2.3, 10.38, -2.1, 10.46, -2.9, 10.55, -2.4, 10.63, -1.8, 10.72, -1.5,
  10.8, -1.3, 10.89, 0.2, 10.97, -1.4, 11.04, 0.7, 11.12, -1.4, 11.21, 0.9, 11.29, -1.1, 11.38, 1.0, 11.46, -1.3,
  11.55, 0.9, 11.63, -1.0, 11.72, 1.4, 11.8, -1.4, 11.89, 0.7, 11.97, -1.2, 12.04, 1.4, 12.12, -0.5, 12.21, 1.7,
  12.29, -0.9, 12.38, 2.0, 12.46, -0.3, 12.55, 2.2, 12.63, -0.4, 12.72, 0.0, 12.8, 2.3, 12.89, 0.3, 12.97, -0.6,
  13.04, 0.6, 13.12, 2.9, 13.21, 0.8, 13.29, 1.1, 13.38, 3.0, 13.46, 0.2, 13.55, 1.3, 13.63, 2.3, 13.72, 0.4,
  13.8, 1.5, 13.89, 0.9, 13.97, 3.1, 14.04, 1.5, 14.12, -0.5, 14.21, 1.9, 14.29, -1.3, 14.38, 2.3, 14.46, 1.2,
  14.55, -1.6, 14.63, 1.6, 14.72, -0.4, 14.8, 2.4, 14.89, -1.1, 14.97, 1.3, 15.04, -1.9, 15.12, 2.6, 15.21, -2.1,
  15.29, 2.4, 15.38, -1.7, 15.46, 2.7, 15.55, -2.0, 15.63, -1.6, 15.72, 2.5, 15.8, -1.8, 15.89, -3.0, 15.97, -2.1,
  16.04, -2.9, 16.12, -1.9, 16.21, -3.1, 16.29, -2.0, 16.38, -1.7, 16.46, -2.9, 16.55, -1.8, 16.63, -3.0, 16.72, -2.0,
  16.8, -1.6, 16.89, -3.1, 16.97, -1.9, 17.04, -1.8, 17.12, -3.0, 17.21, -1.9, 17.29, -2.0, 17.38, -3.1, 17.46, -1.7,
  17.55, -2.0, 17.63, -3.0, 17.72, -1.8, 17.8, -2.9, 17.89, -1.9, 17.97, -3.1, 18.04, -1.7, 18.12, -2.9, 18.21, -1.8,
  18.29, -3.0, 18.38, -1.7, 18.46, -2.9, 18.55, -1.6, 18.63, -2.7, 18.72, -0.2, 18.8, 2.0, 18.89, -1.8, 18.97, 0.5,
  19.04, -1.4, 19.12, 0.6, 19.21, -0.1, 19.29, 2.4, 19.38, -2.0, 19.46, 0.9, 19.55, -0.9, 19.63, 2.7, 19.72, -0.3,
  19.8, 1.1, 19.89, -2.3, 19.97, 0.4, 20.04, 0.6, 20.12, -1.7, 20.21, 2.1, 20.29, -0.2, 20.38, 1.0, 20.46, -2.4,
  20.55, 1.7, 20.63, -0.9, 20.72, 2.3, 20.8, 0.1, 20.89, -2.2, 20.97, 1.3, 21.04, -1.9, 21.12, 1.1, 21.21, -0.7,
  21.29, 2.0, 21.38, -2.5, 21.46, 1.3, 21.55, -0.4, 21.63, 2.3, 21.72, -1.4, 21.8, 0.6, 21.89, -2.6, 21.97, 1.6,
  22.04, -1.1, 22.12, 1.6, 22.21, -0.1, 22.29, 2.5, 22.38, -2.2, 22.46, 1.0, 22.55, -0.9, 22.63, 2.2, 22.72, 0.1,
  22.8, -1.6, 22.89, 1.7, 22.97, -2.9, 23.04, 2.6, 23.12, -1.3, 23.21, 1.4, 23.29, -2.4, 23.38, 0.9, 23.46, -0.9,
  23.55, 2.1, 23.63, -1.9, 23.72, 0.6, 23.8, -0.7, 23.89, 2.4, 23.97, -1.0,
];

const leftTicks = [-2446000, -2444000, -2442000, -2440000, -2438000];
const rightTicks = [0, -1000000, -2000000, -3000000, -4000000, -5000000, -6000000, -7000000];
const azimuthTicks = [-2, 0, 2, 4, 6, 8, 10];
const topTickHours = [0, 3, 6, 9, 12, 15, 18, 21];
const bottomTickHours = [0, 2, 4, 6, 8, 10, 12, 14, 16, 18, 20, 22];
const legendLabel = "Raw Data";
const offsetLabel = "2020-Mar-06";

const minusFmt = (v: number) => (v < 0 ? "\u2212" + Math.abs(v) : String(v));

const App = () => {
  const ref = useRef<SVGSVGElement>(null);

  useEffect(() => {
    document.body.style.margin = "0";
    const svg = d3.select(ref.current);
    svg.selectAll("*").remove();

    const X0 = 168.7;
    const X1 = 1215;
    const top = [125.7, 358.7];
    const mid = [405.3, 638.3];
    const bot = [685.3, 918.3];

    const x = d3.scaleTime().domain([at(-0.98), at(23.99)]).range([X0, X1]);
    const yLeft = d3.scaleLinear().domain([-2447056, -2437214]).range([top[1], top[0]]);
    const yRight = d3.scaleLinear().domain([-7135000, 31000]).range([top[1], top[0]]);
    const yMid = d3.scaleLinear().domain([-3.78, 10.2]).range([mid[1], mid[0]]);
    const yBot = d3.scaleLinear().domain([-3.78, 10.2]).range([bot[1], bot[0]]);

    const styleAxis = (g: any) => {
      g.select(".domain").remove();
      g.attr("font-size", 12).attr("font-family", FONT);
      g.selectAll("line").attr("stroke", "#000").attr("stroke-width", 1.6);
      g.selectAll("text").attr("fill", "#000");
    };

    // title
    svg
      .append("text")
      .attr("x", (X0 + X1) / 2)
      .attr("y", 113)
      .attr("text-anchor", "middle")
      .attr("font-family", FONT)
      .attr("font-size", 25)
      .text(title);

    // ---- top panel ----
    const line = d3
      .line<[number, number]>()
      .x((d) => x(at(d[0])))
      .y((d) => yLeft(d[1]));
    svg
      .append("path")
      .datum(rawSeries)
      .attr("fill", "none")
      .attr("stroke", BLUE)
      .attr("stroke-width", 1.8)
      .attr("stroke-linejoin", "round")
      .attr("d", line);

    const levelLine = d3
      .line<number>()
      .x((h) => x(at(h)))
      .y(() => yRight(levelRight));
    svg
      .append("path")
      .datum(levelSpan)
      .attr("fill", "none")
      .attr("stroke", BLUE)
      .attr("stroke-width", 1.8)
      .attr("d", levelLine);

    svg
      .append("g")
      .attr("transform", `translate(0,${top[1]})`)
      .call(
        d3
          .axisBottom(x)
          .tickValues(topTickHours.map(at))
          .tickFormat((d: any) => d3.timeFormat("%m-%d %H")(d))
          .tickSize(7)
          .tickPadding(8.5)
      )
      .call(styleAxis);
    svg
      .append("g")
      .attr("transform", `translate(${X0},0)`)
      .call(d3.axisLeft(yLeft).tickValues(leftTicks).tickFormat((d: any) => minusFmt(d)).tickSize(7).tickPadding(7))
      .call(styleAxis);
    svg
      .append("g")
      .attr("transform", `translate(${X1},0)`)
      .call(d3.axisRight(yRight).tickValues(rightTicks).tickFormat((d: any) => minusFmt(d)).tickSize(7).tickPadding(7))
      .call(styleAxis);

    // ---- scatter panels ----
    const scatter = (data: number[], y: d3.ScaleLinear<number, number>) => {
      const pts: [number, number][] = [];
      for (let i = 0; i < data.length; i += 2) {
        pts.push([data[i], data[i + 1]]);
        pts.push([data[i], data[i + 1] + 2 * Math.PI]);
      }
      svg
        .append("g")
        .selectAll("circle")
        .data(pts)
        .join("circle")
        .attr("cx", (d) => x(at(d[0])))
        .attr("cy", (d) => y(d[1]))
        .attr("r", 1.5)
        .attr("fill", "#000");
    };
    scatter(fullAzimuth, yMid);
    scatter(halfAzimuth, yBot);

    svg
      .append("g")
      .attr("transform", `translate(0,${mid[1]})`)
      .call(d3.axisBottom(x).tickValues(bottomTickHours.map(at)).tickFormat(() => "").tickSize(7))
      .call(styleAxis);
    svg
      .append("g")
      .attr("transform", `translate(0,${bot[1]})`)
      .call(
        d3
          .axisBottom(x)
          .tickValues(bottomTickHours.map(at))
          .tickFormat((d: any) =>
            d.getHours() === 0 ? d3.timeFormat("%b-%d")(d) : d3.timeFormat("%H:%M")(d)
          )
          .tickSize(7)
          .tickPadding(8.5)
      )
      .call(styleAxis);
    [yMid, yBot].forEach((y) => {
      svg
        .append("g")
        .attr("transform", `translate(${X0},0)`)
        .call(d3.axisLeft(y).tickValues(azimuthTicks).tickFormat((d: any) => minusFmt(d)).tickSize(7).tickPadding(7))
        .call(styleAxis);
    });

    // y labels
    const ylabel = (text: string, cy: number) =>
      svg
        .append("text")
        .attr("transform", `translate(125.8,${cy}) rotate(-90)`)
        .attr("text-anchor", "middle")
        .attr("font-family", FONT)
        .attr("font-size", 12)
        .text(text);
    ylabel("Azimuth Full", (mid[0] + mid[1]) / 2);
    ylabel("Azimuth Half", (bot[0] + bot[1]) / 2);

    // offset date text
    svg
      .append("text")
      .attr("x", X1)
      .attr("y", 959.5)
      .attr("text-anchor", "end")
      .attr("font-family", FONT)
      .attr("font-size", 12)
      .text(offsetLabel);

    // spines
    [top, mid, bot].forEach((p) => {
      svg
        .append("rect")
        .attr("x", X0)
        .attr("y", p[0])
        .attr("width", X1 - X0)
        .attr("height", p[1] - p[0])
        .attr("fill", "none")
        .attr("stroke", "#000")
        .attr("stroke-width", 1.6);
    });

    // legend
    const lg = svg.append("g").attr("transform", "translate(1123,233.5)");
    lg.append("rect")
      .attr("width", 87)
      .attr("height", 17.5)
      .attr("rx", 2)
      .attr("fill", "#fff")
      .attr("fill-opacity", 0.8)
      .attr("stroke", "#cccccc")
      .attr("stroke-width", 1);
    lg.append("line")
      .attr("x1", 4)
      .attr("x2", 27)
      .attr("y1", 8.5)
      .attr("y2", 8.5)
      .attr("stroke", BLUE)
      .attr("stroke-width", 1.8);
    lg.append("text")
      .attr("x", 33)
      .attr("y", 12.3)
      .attr("font-family", FONT)
      .attr("font-size", 10.4)
      .text(legendLabel);
  }, []);

  return <svg ref={ref} width={WIDTH} height={HEIGHT} style={{ display: "block", background: "#fff" }} />;
};

export default App;
